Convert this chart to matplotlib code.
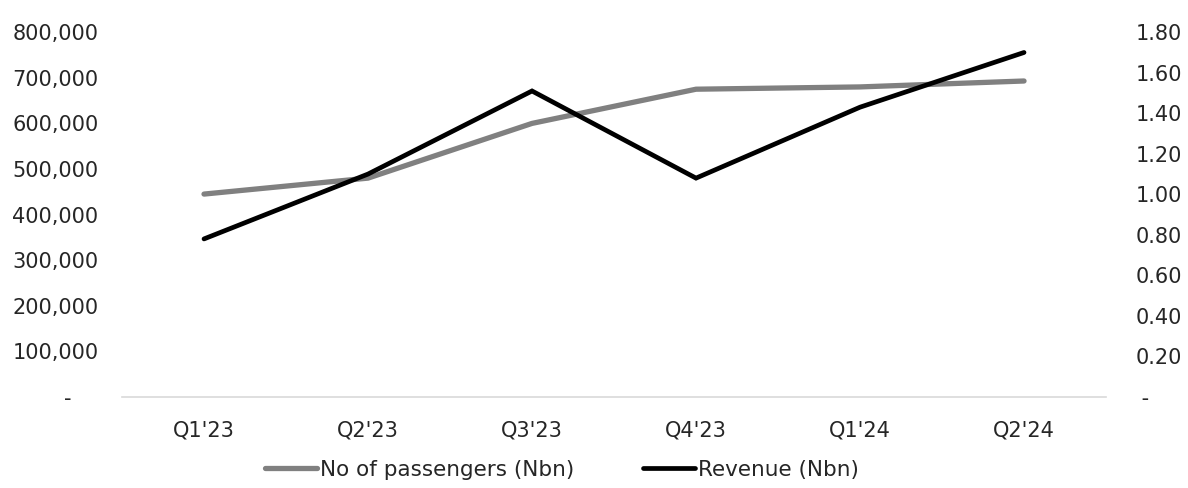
import matplotlib.pyplot as plt
from matplotlib import ticker

quarters = ["Q1'23", "Q2'23", "Q3'23", "Q4'23", "Q1'24", "Q2'24"]
passengers = [445000, 480000, 600000, 675000, 680000, 693000]
revenue = [0.78, 1.10, 1.51, 1.08, 1.43, 1.70]

plt.rcParams['font.family'] = ['DejaVu Sans']
fig = plt.figure(figsize=(11.88, 4.88), dpi=100)
ax = fig.add_axes([0.1027, 0.1865, 0.8283, 0.7475])
ax2 = ax.twinx()

x = list(range(len(quarters)))
ax.plot(x, passengers, color="#808080", lw=3.8, solid_capstyle="round", label="No of passengers (Nbn)")
ax2.plot(x, revenue, color="#000000", lw=3.4, solid_capstyle="round", solid_joinstyle="miter",
         label="Revenue (Nbn)")

ax.set_xlim(-0.5, 5.5)
ax.set_ylim(0, 800000)
ax2.set_ylim(0, 1.8)
ax.set_yticks(range(0, 800001, 100000))
ax2.set_yticks([i * 0.2 for i in range(10)])

ax.yaxis.set_major_formatter(ticker.FuncFormatter(lambda v, p: "-    " if v == 0 else f"{v:,.0f}"))
ax2.yaxis.set_major_formatter(ticker.FuncFormatter(lambda v, p: " -" if v == 0 else f"{v:.2f}"))

ax.set_xticks(x)
ax.set_xticklabels(quarters)

for a in (ax, ax2):
    for s in a.spines.values():
        s.set_visible(False)
    a.tick_params(length=0, labelsize=15, colors="#262626")
ax.spines["bottom"].set_visible(True)
ax.spines["bottom"].set_color("#d9d9d9")
ax.spines["bottom"].set_linewidth(1.2)
ax.tick_params(axis="x", pad=17)
ax.tick_params(axis="y", pad=17)
ax2.tick_params(axis="y", pad=21)

h1, l1 = ax.get_legend_handles_labels()
h2, l2 = ax2.get_legend_handles_labels()
fig.legend(h1 + h2, l1 + l2, loc="center", bbox_to_anchor=(0.473, 0.037), ncol=2, frameon=False,
           fontsize=15.5, handlelength=2.4, handletextpad=0.15, columnspacing=3.2,
           labelcolor="#262626")

fig.savefig("out.png", dpi=100)
